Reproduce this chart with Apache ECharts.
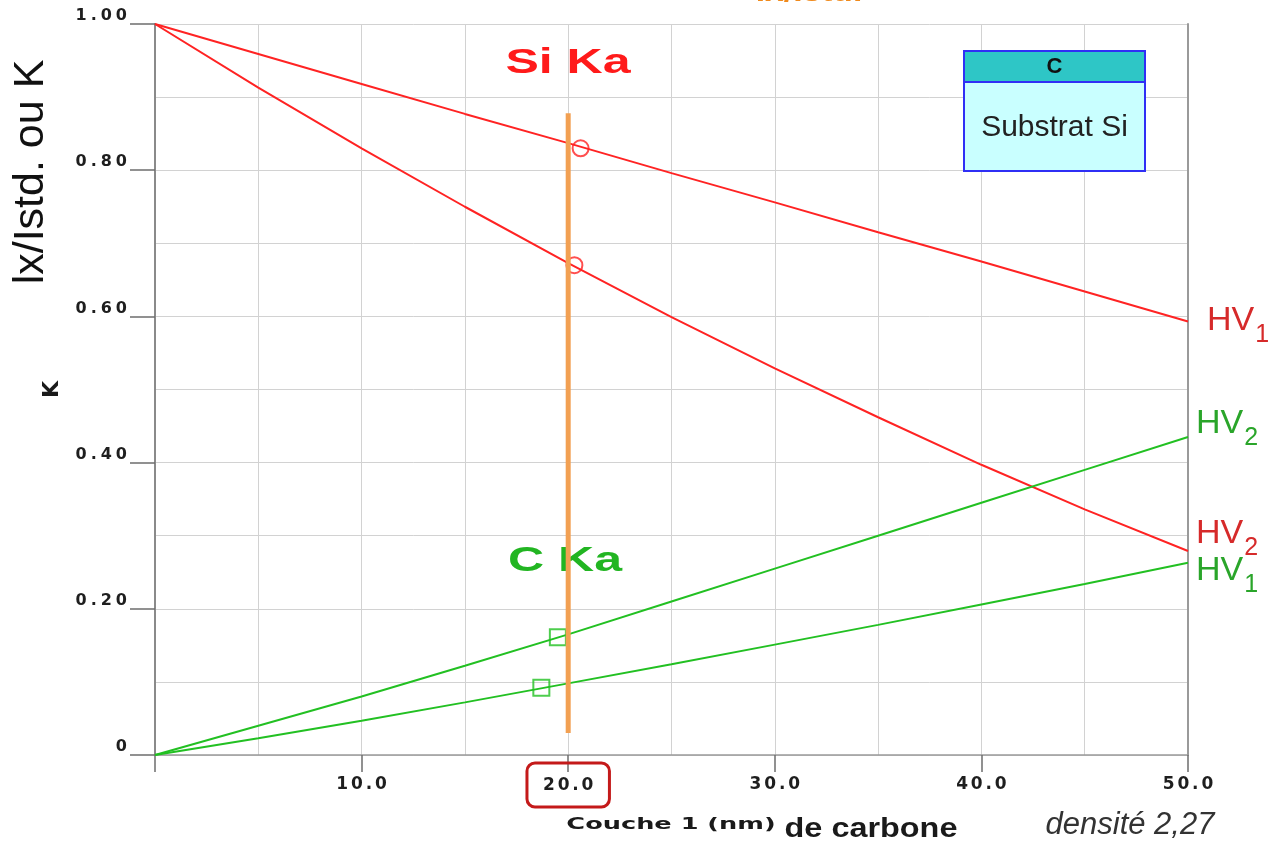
<!DOCTYPE html>
<html>
<head>
<meta charset="utf-8">
<title>Couche de carbone sur substrat Si</title>
<script src="https://cdn.jsdelivr.net/npm/echarts@6/dist/echarts.min.js"></script>
<style>
  html, body { margin: 0; padding: 0; background: #ffffff; }
  #chart { width: 1274px; height: 842px; }
</style>
</head>
<body>
<div id="chart"></div>
<script>
// Layer thickness (nm) and intensity ratios Ix/Istd (K)
const thicknessNm = [0, 5, 10, 15, 20, 25, 30, 35, 40, 45, 50];
const siKaHV1 = [1.000, 0.959, 0.918, 0.877, 0.837, 0.796, 0.756, 0.715, 0.675, 0.634, 0.593];
const siKaHV2 = [1.000, 0.913, 0.830, 0.750, 0.673, 0.599, 0.529, 0.462, 0.397, 0.336, 0.279];
const cKaHV1 = [0.000, 0.023, 0.047, 0.072, 0.098, 0.124, 0.151, 0.178, 0.206, 0.234, 0.263];
const cKaHV2 = [0.000, 0.040, 0.080, 0.122, 0.165, 0.210, 0.255, 0.300, 0.345, 0.390, 0.435];

// Measured points
const siMeasX = [20.6, 20.3];
const siMeasK = [0.830, 0.670];
const cMeasX = [19.5, 18.7];
const cMeasK = [0.161, 0.092];

// Thickness cursor
const cursorNm = 20;
const cursorK = [0.030, 0.878];

// Highlighted tick on the thickness axis
const boxedTick = 20;

const RED = '#ff2323';
const RED_TXT = '#d62a2a';
const GREEN = '#22c022';
const GREEN_TXT = '#2aa52a';
const WIDE = 'DejaVu Sans';
const SANS = 'Liberation Sans';

const pairs = (xs, ys) => xs.map((x, i) => [x, ys[i]]);

// widen text by inserting narrow spaces between characters
const spaced = (s, sp) => s.split('').join(sp);

const hvRich = (color) => ({
  m: { fontFamily: SANS, fontSize: 34, color: color, lineHeight: 36, verticalAlign: 'top' },
  s: { fontFamily: SANS, fontSize: 25, color: color, lineHeight: 24, padding: [19, 0, 0, 1], verticalAlign: 'top' }
});

const lineSeries = (name, values, color, sub, offset) => ({
  name: name,
  type: 'line',
  data: pairs(thicknessNm, values),
  symbol: 'none',
  lineStyle: { color: color, width: 2 },
  itemStyle: { color: color },
  z: 3,
  endLabel: {
    show: true,
    formatter: '{m|HV}{s|' + sub + '}',
    distance: 0,
    offset: offset,
    rich: hvRich(color === RED ? RED_TXT : GREEN_TXT)
  }
});

const chart = echarts.init(document.getElementById('chart'), null, { renderer: 'canvas' });

chart.setOption({
  animation: false,
  backgroundColor: '#ffffff',
  grid: { left: 155, right: 86, top: 24, bottom: 87, containLabel: false },
  xAxis: {
    type: 'value',
    min: 0,
    max: 50,
    interval: 10,
    axisLine: { show: true, lineStyle: { color: '#9a9a9a', width: 1.5 } },
    axisTick: { show: true, length: 17, lineStyle: { color: '#6e6e6e', width: 1.5 } },
    splitLine: { show: true, lineStyle: { color: '#d2d2d2', width: 1 } },
    minorTick: { show: false, splitNumber: 2 },
    minorSplitLine: { show: true, lineStyle: { color: '#d2d2d2', width: 1 } },
    axisLabel: {
      margin: 30,
      verticalAlign: 'middle',
      fontFamily: WIDE,
      fontWeight: 'bold',
      fontSize: 17,
      color: '#1e1e1e',
      formatter: function (v) {
        if (v === 0) return '';
        const t = spaced(v.toFixed(1), '\u2006');
        return v === boxedTick ? '{box|' + t + '}' : '{d|' + t + '}';
      },
      rich: {
        d: { fontFamily: WIDE, fontWeight: 'bold', fontSize: 17, color: '#1e1e1e' },
        box: {
          fontFamily: WIDE, fontWeight: 'bold', fontSize: 17, color: '#1e1e1e',
          borderColor: '#c41a1a', borderWidth: 3, borderRadius: 8,
          padding: [14, 16, 13, 16]
        }
      }
    }
  },
  yAxis: [{
    type: 'value',
    min: 0,
    max: 1,
    interval: 0.2,
    name: 'K',
    nameLocation: 'middle',
    nameGap: 92,
    nameRotate: 90,
    nameTextStyle: { fontFamily: WIDE, fontWeight: 'bold', fontSize: 22, color: '#1a1a1a' },
    axisLine: { show: true, lineStyle: { color: '#8a8a8a', width: 2 } },
    axisTick: { show: true, length: 25, lineStyle: { color: '#6e6e6e', width: 1.5 } },
    splitLine: { show: true, lineStyle: { color: '#d2d2d2', width: 1 } },
    minorTick: { show: false, splitNumber: 2 },
    minorSplitLine: { show: true, lineStyle: { color: '#d2d2d2', width: 1 } },
    axisLabel: {
      margin: 28,
      verticalAlign: 'bottom',
      fontFamily: WIDE,
      fontWeight: 'bold',
      fontSize: 16,
      color: '#1e1e1e',
      formatter: function (v) {
        return v === 0 ? '0' : spaced(v.toFixed(2), '\u2005');
      }
    }
  }, {
    type: 'value',
    min: 0,
    max: 1,
    position: 'right',
    axisLine: { show: true, lineStyle: { color: '#9a9a9a', width: 2 } },
    axisTick: { show: false },
    axisLabel: { show: false },
    splitLine: { show: false }
  }],
  series: [
    lineSeries('Si Ka HV1', siKaHV1, RED, '1', [19, 0]),
    lineSeries('Si Ka HV2', siKaHV2, RED, '2', [8, -16]),
    lineSeries('C Ka HV1', cKaHV1, GREEN, '1', [8, 9]),
    lineSeries('C Ka HV2', cKaHV2, GREEN, '2', [8, -12]),
    {
      name: 'Si Ka mesure',
      type: 'scatter',
      data: pairs(siMeasX, siMeasK),
      symbol: 'circle',
      symbolSize: 16,
      itemStyle: { color: 'rgba(0,0,0,0)', borderColor: RED, borderWidth: 2 },
      z: 4
    },
    {
      name: 'C Ka mesure',
      type: 'scatter',
      data: pairs(cMeasX, cMeasK),
      symbol: 'rect',
      symbolSize: 16,
      itemStyle: { color: 'rgba(0,0,0,0)', borderColor: GREEN, borderWidth: 2 },
      z: 4
    },
    {
      name: 'curseur',
      type: 'line',
      data: cursorK.map(k => [cursorNm, k]),
      symbol: 'none',
      lineStyle: { color: '#f2a052', width: 5 },
      z: 6
    }
  ],
  graphic: [
    // Partially visible heading at the top edge
    {
      type: 'text', x: 809, y: 7, scaleX: 1.2,
      style: { text: 'Ix/Istd.', fontFamily: SANS, fontWeight: 'bold', fontSize: 28, fill: '#f08a1c', textAlign: 'center', textVerticalAlign: 'bottom' }
    },
    // Y axis title
    {
      type: 'text', x: 31, y: 172, rotation: Math.PI / 2,
      style: { text: 'lx/Istd. ou K', fontFamily: SANS, fontSize: 43, fill: '#111111', textAlign: 'center', textVerticalAlign: 'middle' }
    },
    // Line group titles
    {
      type: 'text', x: 568, y: 63, scaleX: 1.43, z: 10,
      style: { text: 'Si Ka', fontFamily: SANS, fontWeight: 'bold', fontSize: 35, fill: '#ff1a1a', textAlign: 'center', textVerticalAlign: 'middle' }
    },
    {
      type: 'text', x: 565, y: 561, scaleX: 1.43, z: 1,
      style: { text: 'C Ka', fontFamily: SANS, fontWeight: 'bold', fontSize: 35, fill: '#22b522', textAlign: 'center', textVerticalAlign: 'middle' }
    },
    // Sample layers: carbon coating on silicon substrate
    { type: 'rect', z: 100, shape: { x: 964, y: 51, width: 181, height: 120 }, style: { fill: '#c9ffff', stroke: '#2f2ff5', lineWidth: 2 } },
    { type: 'rect', z: 101, shape: { x: 964, y: 51, width: 181, height: 31 }, style: { fill: '#2ec6c6', stroke: '#2f2ff5', lineWidth: 2 } },
    { type: 'text', z: 102, x: 1054.5, y: 67, style: { text: 'C', fontFamily: SANS, fontWeight: 'bold', fontSize: 22, fill: '#111111', textAlign: 'center', textVerticalAlign: 'middle' } },
    { type: 'text', z: 102, x: 1054.5, y: 128, style: { text: 'Substrat Si', fontFamily: SANS, fontSize: 30, fill: '#222222', textAlign: 'center', textVerticalAlign: 'middle' } },
    // X axis title
    {
      type: 'text', x: 671, y: 833, scaleX: 1.6,
      style: { text: 'Couche 1 (nm)', fontFamily: WIDE, fontWeight: 'bold', fontSize: 16, fill: '#1a1a1a', textAlign: 'center', textVerticalAlign: 'bottom' }
    },
    {
      type: 'text', x: 871, y: 843, scaleX: 1.2,
      style: { text: 'de carbone', fontFamily: SANS, fontWeight: 'bold', fontSize: 27, fill: '#1a1a1a', textAlign: 'center', textVerticalAlign: 'bottom' }
    },
    {
      type: 'text', x: 1130, y: 841,
      style: { text: 'densité 2,27', fontFamily: SANS, fontStyle: 'italic', fontSize: 31, fill: '#333333', textAlign: 'center', textVerticalAlign: 'bottom' }
    }
  ]
});
</script>
</body>
</html>
